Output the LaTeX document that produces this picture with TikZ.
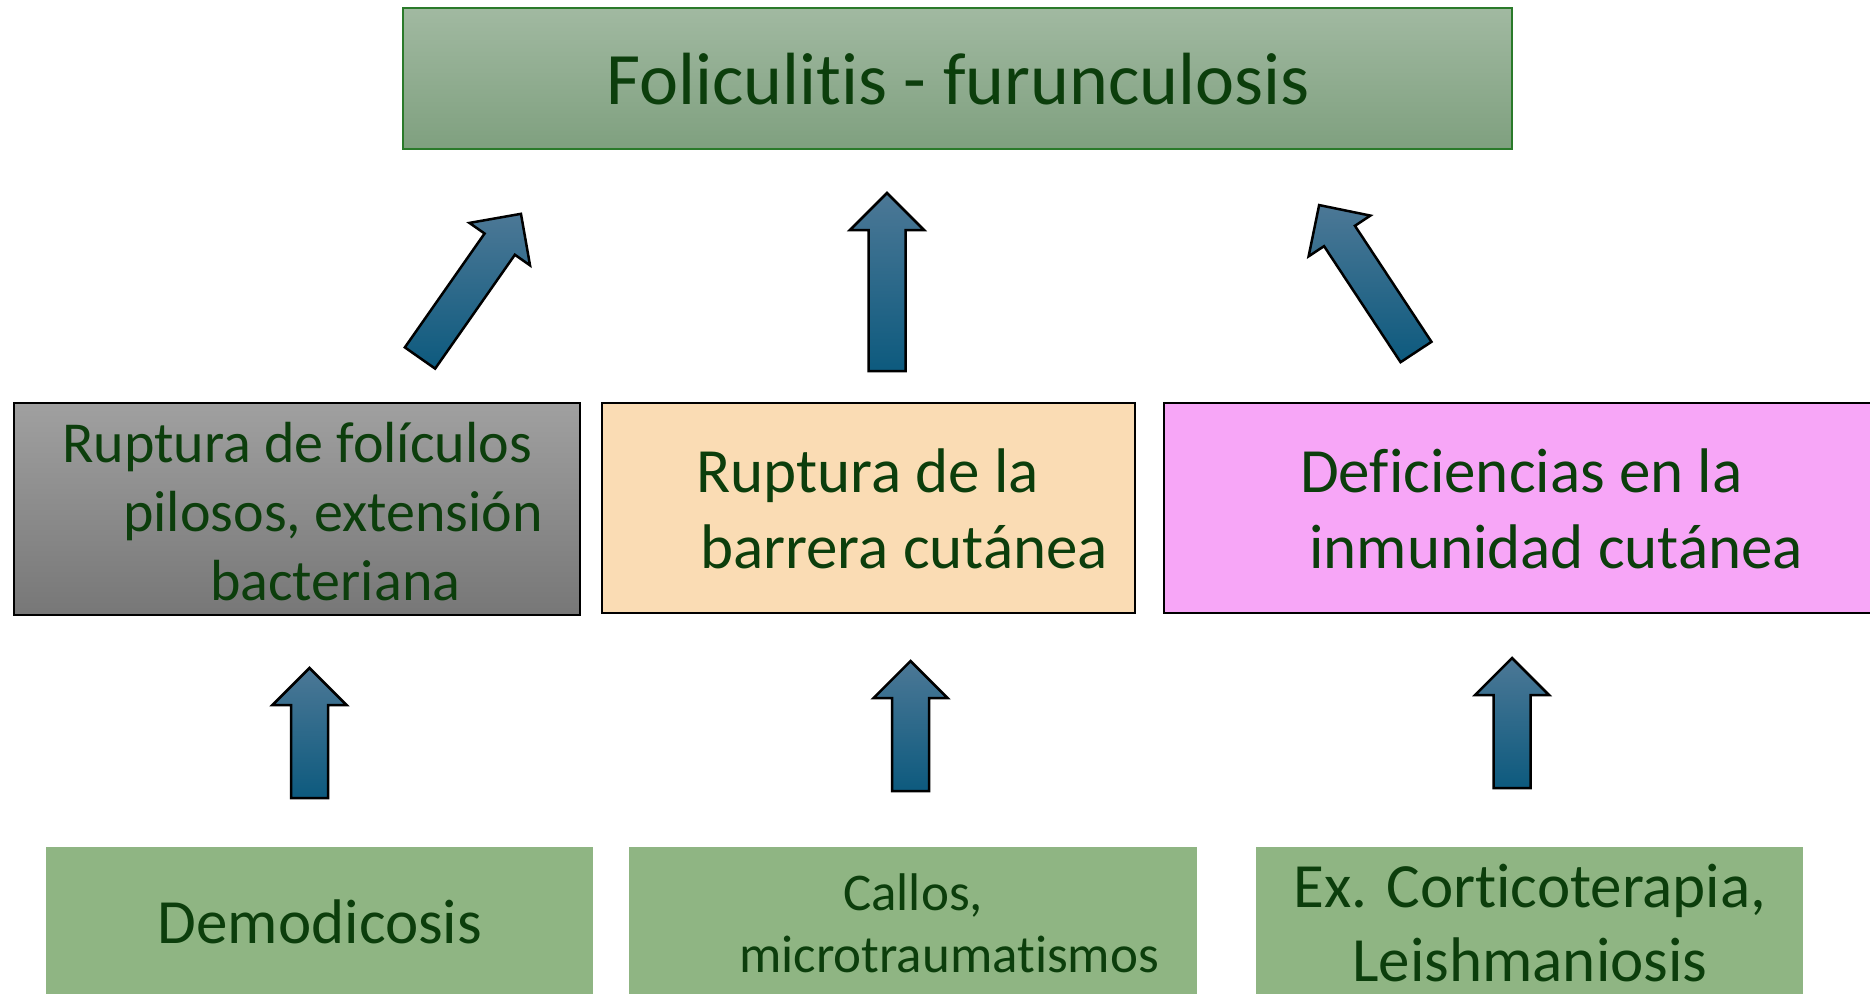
\documentclass[tikz,border=0pt]{standalone}
\usepackage{fontspec}
\setmainfont{Carlito}[Ligatures={NoCommon,NoRare,NoContextual}]
\definecolor{txtgreen}{HTML}{0C3E0C}
\definecolor{topA}{HTML}{A1B9A1}
\definecolor{topB}{HTML}{7FA07F}
\definecolor{topBorder}{HTML}{2A7A2A}
\definecolor{grayA}{HTML}{A0A0A0}
\definecolor{grayB}{HTML}{777777}
\definecolor{peach}{HTML}{FADCB4}
\definecolor{pink}{HTML}{F7A6F7}
\definecolor{leaf}{HTML}{8FB583}
\definecolor{arrA}{HTML}{4C7896}
\definecolor{arrB}{HTML}{0D5A7E}
\begin{document}
\begin{tikzpicture}[x=1pt,y=-1pt,
  box/.style={draw=black, line width=2pt, inner sep=0pt},
  txt/.style={text=txtgreen, inner sep=0pt, align=left},
  arrowbody/.style={draw=black, line width=2.5pt, line join=miter, top color=arrA, bottom color=arrB},
  pics/barrow/.style={code={
    \path[arrowbody] (-18.5,0) -- (-18.5,{-#1+37}) -- (-37,{-#1+37}) -- (0,-#1)
      -- (37,{-#1+37}) -- (18.5,{-#1+37}) -- (18.5,0) -- cycle;
  }}]
\useasboundingbox (0,0) rectangle (1870,993);
\fill[white] (0,0) rectangle (1870,993);

% top box
\path[draw=topBorder, line width=2.5pt, top color=topA, bottom color=topB] (403,8) rectangle (1512,149);
\node[txt, font=\fontsize{74}{89}\selectfont] (top) at (958,79) {Foliculitis - furunculosis};

% middle boxes
\path[box, top color=grayA, bottom color=grayB] (14,403) rectangle (580,615);
\node[txt, anchor=west, font=\fontsize{58}{69}\selectfont] (rup1) at (62,512)
  {Ruptura de folículos\\\hspace*{61pt}pilosos, extensión\\\hspace*{148pt}bacteriana};

\path[box, fill=peach] (602,403) rectangle (1135,613);
\node[txt, anchor=west, font=\fontsize{63}{76}\selectfont] (rup2) at (696,509)
  {Ruptura de la\\\hspace*{4pt}barrera cutánea};

\path[box, fill=pink] (1164,403) rectangle (1885,613);
\node[txt, anchor=west, font=\fontsize{63}{76}\selectfont] (def) at (1300,509)
  {Deficiencias en la\\\hspace*{9pt}inmunidad cutánea};

% bottom boxes
\fill[leaf] (46,847) rectangle (593,1000);
\node[txt, font=\fontsize{63}{76}\selectfont] (demo) at (320,922) {Demodicosis};

\fill[leaf] (629,847) rectangle (1197,1000);
\node[txt, anchor=west, font=\fontsize{53}{62}\selectfont] (callos) at (739,923)
  {\hspace*{104pt}Callos,\\microtraumatismos};

\fill[leaf] (1256,847) rectangle (1803,1000);
\node[txt, align=center, font=\fontsize{63}{74}\selectfont] (cort) at (1530,923)
  {Ex. Corticoterapia,\\Leishmaniosis};

% block arrows
\pic (a1) at (309.5,798) {barrow=130};
\pic (a2) at (910.5,791) {barrow=130};
\pic (a3) at (1512,788) {barrow=130};
\pic (a4) at (887,371) {barrow=178};
\pic[rotate=-35] (a5) at (420,358) {barrow=176};
\pic[rotate=33.4] (a6) at (1416,352) {barrow=176};
\end{tikzpicture}
\end{document}
